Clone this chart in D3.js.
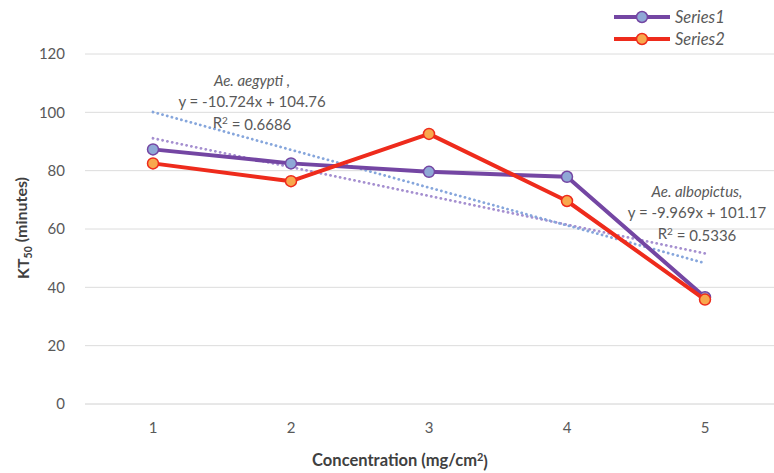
<!DOCTYPE html>
<html lang="en">
<head>
    <meta charset="UTF-8">
    <title>KT50 vs Concentration</title>
    <script src="https://d3js.org/d3.v7.min.js"></script>
    <style>
        body { margin: 0; padding: 0; background: #fff; }
        svg { display: block; font-family: Lato, "Open Sans", sans-serif; }
    </style>
</head>
<body>
    <svg id="chart"></svg>
    <script>
        // data
        const concentrations = ["1", "2", "3", "4", "5"];
        const series1 = [87.3, 82.5, 79.6, 77.9, 36.6];
        const series2 = [82.5, 76.4, 92.6, 69.6, 35.8];
        const seriesNames = ["Series1", "Series2"];
        const yTicks = [0, 20, 40, 60, 80, 100, 120];
        // dotted trend lines, value at x=1 and x=5
        const trend1 = [91.1, 51.6];
        const trend2 = [100.1, 48.3];
        const labelAegypti = ["Ae. aegypti ,", "y = -10.724x + 104.76", "R\u00b2 = 0.6686"];
        const labelAlbopictus = ["Ae. albopictus,", "y = -9.969x + 101.17", "R\u00b2 = 0.5336"];

        const width = 774, height = 473;
        const margin = { top: 54, right: 0, bottom: 69, left: 84 };

        const svg = d3.select("#chart").attr("width", width).attr("height", height);

        const x = d3.scaleBand().domain(concentrations).range([margin.left, width - margin.right]);
        const xc = d => x(d) + x.bandwidth() / 2;
        const y = d3.scaleLinear().domain([0, 120]).range([height - margin.bottom, margin.top]);

        // gridlines
        svg.append("g").selectAll("line")
            .data(yTicks)
            .enter().append("line")
            .attr("x1", margin.left + 1).attr("x2", width)
            .attr("y1", d => y(d)).attr("y2", d => y(d))
            .attr("stroke", d => d === 0 ? "#d0d0d0" : "#dcdcdc")
            .attr("stroke-width", 1);

        // y tick labels
        svg.append("g").selectAll("text")
            .data(yTicks)
            .enter().append("text")
            .attr("x", 65).attr("y", d => y(d))
            .attr("dy", "0.35em")
            .attr("text-anchor", "end")
            .attr("fill", "#595959")
            .style("font-size", "15px")
            .text(d => d);

        // x tick labels
        svg.append("g").selectAll("text")
            .data(concentrations)
            .enter().append("text")
            .attr("x", d => xc(d)).attr("y", 428)
            .attr("dy", "0.35em")
            .attr("text-anchor", "middle")
            .attr("fill", "#595959")
            .style("font-size", "15px")
            .text(d => d);

        // axis titles
        const xt = svg.append("text")
            .attr("x", 400).attr("y", 460)
            .attr("dy", "0.35em")
            .attr("text-anchor", "middle")
            .attr("fill", "#404040")
            .style("font-size", "16.5px").style("font-weight", "bold");
        xt.append("tspan").text("Concentration (mg/cm");
        xt.append("tspan").attr("dy", "-0.4em").style("font-size", "11px").text("2");
        xt.append("tspan").attr("dy", "0.4em").text(")");

        const yt = svg.append("text")
            .attr("transform", "translate(23,228) rotate(-90)")
            .attr("text-anchor", "middle")
            .attr("dy", "0.35em")
            .attr("fill", "#404040")
            .style("font-size", "16px").style("font-weight", "bold");
        yt.append("tspan").text("KT");
        yt.append("tspan").attr("dy", "0.3em").style("font-size", "10.5px").text("50");
        yt.append("tspan").attr("dy", "-0.3em").text(" (minutes)");

        // trend lines
        const trends = [
            { vals: trend1, col: "#a58fd0" },
            { vals: trend2, col: "#86a6dc" }
        ];
        trends.forEach(t => {
            svg.append("line")
                .attr("x1", xc("1")).attr("y1", y(t.vals[0]))
                .attr("x2", xc("5")).attr("y2", y(t.vals[1]))
                .attr("stroke", t.col)
                .attr("stroke-width", 2.8)
                .attr("stroke-linecap", "round")
                .attr("stroke-dasharray", "0.1,4.8");
        });

        // trend labels
        function drawLabel(lines, cx, ys) {
            lines.forEach((t, i) => {
                const el = svg.append("text")
                    .attr("x", cx).attr("y", ys[i])
                    .attr("dy", "0.35em")
                    .attr("text-anchor", "middle")
                    .attr("fill", "#595959")
                    .style("font-size", "15px")
                    .style("font-style", i === 0 ? "italic" : "normal");
                if (t.startsWith("R\u00b2")) {
                    el.append("tspan").text("R");
                    el.append("tspan").attr("dy", "-0.4em").style("font-size", "10px").text("2");
                    el.append("tspan").attr("dy", "0.4em").text(t.slice(2));
                } else {
                    el.text(t);
                }
            });
        }
        drawLabel(labelAegypti, 252, [81, 102, 123]);
        drawLabel(labelAlbopictus, 697, [192, 213, 234]);

        // series
        const allSeries = [
            { name: seriesNames[0], vals: series1, line: "#7446a3", fill: "#8fa8d6" },
            { name: seriesNames[1], vals: series2, line: "#ee2b1c", fill: "#f8a84d" }
        ];
        const lineGen = d3.line().x((d, i) => xc(concentrations[i])).y(d => y(d));

        allSeries.forEach(s => {
            svg.append("path")
                .datum(s.vals)
                .attr("d", lineGen)
                .attr("fill", "none")
                .attr("stroke", s.line)
                .attr("stroke-width", 4)
                .attr("stroke-linejoin", "round");
            svg.append("g").selectAll("circle")
                .data(s.vals)
                .enter().append("circle")
                .attr("cx", (d, i) => xc(concentrations[i]))
                .attr("cy", d => y(d))
                .attr("r", 5.5)
                .attr("fill", s.fill)
                .attr("stroke", s.line)
                .attr("stroke-width", 1.5);
        });

        // legend
        allSeries.forEach((s, i) => {
            const ly = 17 + i * 22;
            svg.append("line")
                .attr("x1", 614).attr("x2", 670)
                .attr("y1", ly).attr("y2", ly)
                .attr("stroke", s.line).attr("stroke-width", 4);
            svg.append("circle")
                .attr("cx", 642).attr("cy", ly).attr("r", 5.5)
                .attr("fill", s.fill).attr("stroke", s.line).attr("stroke-width", 1.5);
            svg.append("text")
                .attr("x", 675).attr("y", ly)
                .attr("dy", "0.35em")
                .attr("fill", "#595959")
                .style("font-size", "16.5px").style("font-style", "italic")
                .text(s.name);
        });
    </script>
</body>
</html>
